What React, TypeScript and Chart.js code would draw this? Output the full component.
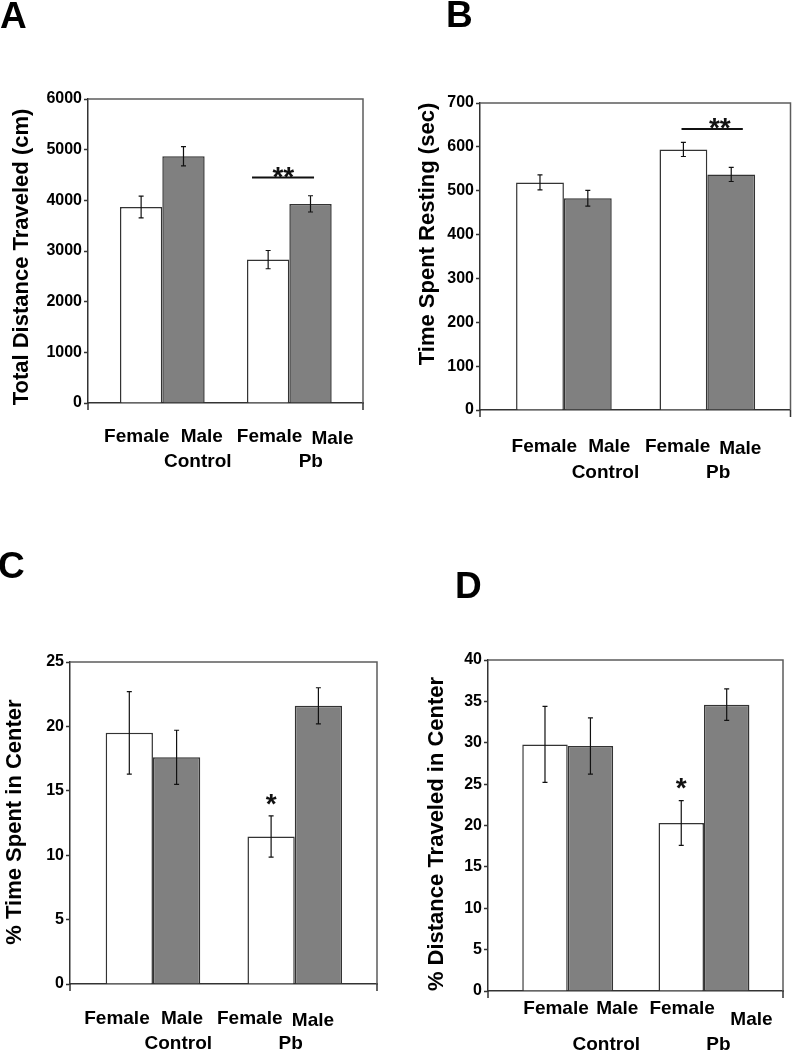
import React, { useEffect, useRef } from 'react';
import { Chart, registerables } from 'chart.js';

Chart.register(...registerables);

// ---------- data ----------
const groups = ['Control', 'Pb'];
const sexLabels = ['Female', 'Male'];

// A: Total Distance Traveled (cm)
const distanceFemale = [3870, 2830];
const distanceMale = [4870, 3930];
const distanceFemaleErr = [215, 180];
const distanceMaleErr = [190, 160];
const distanceTicks = [0, 1000, 2000, 3000, 4000, 5000, 6000];
const distanceSigLevel = 4450;
const distanceSigLabel = '**';

// B: Time Spent Resting (sec)
const restFemale = [519, 594];
const restMale = [483, 537];
const restFemaleErr = [17, 16];
const restMaleErr = [18, 16];
const restTicks = [0, 100, 200, 300, 400, 500, 600, 700];
const restSigLevel = 641;
const restSigLabel = '**';

// C: % Time Spent in Center
const timeCenterFemale = [19.5, 11.45];
const timeCenterMale = [17.6, 21.6];
const timeCenterFemaleErr = [3.2, 1.6];
const timeCenterMaleErr = [2.1, 1.4];
const timeCenterTicks = [0, 5, 10, 15, 20, 25];
const timeCenterSigLabel = '*';

// D: % Distance Traveled in Center
const distCenterFemale = [29.8, 20.3];
const distCenterMale = [29.6, 34.6];
const distCenterFemaleErr = [4.6, 2.7];
const distCenterMaleErr = [3.4, 1.9];
const distCenterTicks = [0, 5, 10, 15, 20, 25, 30, 35, 40];
const distCenterSigLabel = '*';

// ---------- layout / style ----------
const FONT = '"Liberation Sans", Arial, Helvetica, sans-serif';
const W = 396;
const H = 525;
const X_MIN = -0.585;
const X_MAX = 1.58;

type Area = { left: number; top: number; right: number; bottom: number };
type Sig =
  | { kind: 'bracket'; group: number; level: number; text: string; x0: number; x1: number; tdx: number; ttop: number }
  | { kind: 'star'; group: number; series: number; text: string; gap: number };
type PanelCfg = {
  id: string;
  left: number;
  top: number;
  letter: string;
  letterX: number;
  letterY: number;
  title: string;
  titleX: number;
  titleY: number;
  area: Area;
  female: number[];
  male: number[];
  femaleErr: number[];
  maleErr: number[];
  ticks: number[];
  lab: { f: number[]; m: number[]; g: number[]; fy: number[]; my: number[]; gy: number };
  sig: Sig;
};

const panels: PanelCfg[] = [
  {
    id: 'A', left: 0, top: 0,
    letter: 'A', letterX: 0, letterY: 28,
    title: 'Total Distance Traveled (cm)', titleX: 28, titleY: 257,
    area: { left: 88, top: 99, right: 363, bottom: 403 },
    female: distanceFemale, male: distanceMale, femaleErr: distanceFemaleErr, maleErr: distanceMaleErr,
    ticks: distanceTicks,
    lab: { f: [-25.5, -19.8], m: [39.5, 43.2], g: [35.5, 21.5], fy: [39, 39], my: [39, 41], gy: 64 },
    sig: { kind: 'bracket', group: 1, level: distanceSigLevel, text: distanceSigLabel, x0: -37.3, x1: 24.7, tdx: -6, ttop: 11.7 },
  },
  {
    id: 'B', left: 396, top: 0,
    letter: 'B', letterX: 50, letterY: 27,
    title: 'Time Spent Resting (sec)', titleX: 38, titleY: 234,
    area: { left: 84, top: 103, right: 394.5, bottom: 410 },
    female: restFemale, male: restMale, femaleErr: restFemaleErr, maleErr: restMaleErr,
    ticks: restTicks,
    lab: { f: [-19.6, -29.7], m: [45.4, 33], g: [41.5, 10.8], fy: [42, 42], my: [42, 44], gy: 68 },
    sig: { kind: 'bracket', group: 1, level: restSigLevel, text: restSigLabel, x0: -25.8, x1: 35.5, tdx: 12.5, ttop: 12 },
  },
  {
    id: 'C', left: 0, top: 525,
    letter: 'C', letterX: -2, letterY: 53,
    title: '% Time Spent in Center', titleX: 21, titleY: 297,
    area: { left: 70, top: 137, right: 377, bottom: 459 },
    female: timeCenterFemale, male: timeCenterMale, femaleErr: timeCenterFemaleErr, maleErr: timeCenterMaleErr,
    ticks: timeCenterTicks,
    lab: { f: [-36, -45], m: [29.1, 18.2], g: [25.3, -4], fy: [40, 40], my: [40, 42], gy: 65 },
    sig: { kind: 'star', group: 1, series: 0, text: timeCenterSigLabel, gap: 22.7 },
  },
  {
    id: 'D', left: 396, top: 525,
    letter: 'D', letterX: 59, letterY: 73,
    title: '% Distance Traveled in Center', titleX: 47, titleY: 309,
    area: { left: 92, top: 135, right: 387, bottom: 466 },
    female: distCenterFemale, male: distCenterMale, femaleErr: distCenterFemaleErr, maleErr: distCenterMaleErr,
    ticks: distCenterTicks,
    lab: { f: [-11.7, -21.8], m: [49.6, 47.5], g: [38.6, 14.4], fy: [23, 23], my: [23, 34], gy: 59 },
    sig: { kind: 'star', group: 1, series: 0, text: distCenterSigLabel, gap: 24 },
  },
];

const STAR_SIZE = 28;

function makeDecor(cfg: PanelCfg) {
  return {
    id: 'decor' + cfg.id,
    afterDatasetsDraw(chart: any) {
      const ctx: CanvasRenderingContext2D = chart.ctx;
      const xs = chart.scales.x;
      const ys = chart.scales.y;
      const { left, top, right, bottom } = chart.chartArea;
      ctx.save();
      // frame (top & right)
      ctx.strokeStyle = '#5c5c5c';
      ctx.lineWidth = 1.5;
      ctx.beginPath();
      ctx.moveTo(left, top);
      ctx.lineTo(right, top);
      ctx.lineTo(right, bottom);
      ctx.stroke();
      // axis extensions below baseline
      ctx.strokeStyle = '#333';
      ctx.beginPath();
      ctx.moveTo(left, bottom);
      ctx.lineTo(left, bottom + 7);
      ctx.moveTo(right, bottom);
      ctx.lineTo(right, bottom + 7);
      ctx.stroke();

      // error bars
      const series: [number[], number[]][] = [
        [cfg.female, cfg.femaleErr],
        [cfg.male, cfg.maleErr],
      ];
      ctx.strokeStyle = '#111';
      ctx.lineWidth = 1.2;
      series.forEach(([vals, errs], d) => {
        const meta = chart.getDatasetMeta(d);
        meta.data.forEach((bar: any, i: number) => {
          const x = bar.x;
          const y1 = ys.getPixelForValue(vals[i] + errs[i]);
          const y2 = ys.getPixelForValue(vals[i] - errs[i]);
          ctx.beginPath();
          ctx.moveTo(x, y1);
          ctx.lineTo(x, y2);
          ctx.moveTo(x - 2.5, y1);
          ctx.lineTo(x + 2.5, y1);
          ctx.moveTo(x - 2.5, y2);
          ctx.lineTo(x + 2.5, y2);
          ctx.stroke();
        });
      });

      // significance
      ctx.fillStyle = '#111';
      ctx.font = `bold ${STAR_SIZE}px ${FONT}`;
      ctx.textAlign = 'center';
      ctx.textBaseline = 'alphabetic';
      const s = cfg.sig;
      if (s.kind === 'bracket') {
        const gc = xs.getPixelForValue(s.group);
        const ly = ys.getPixelForValue(s.level);
        ctx.strokeStyle = '#111';
        ctx.lineWidth = 2;
        ctx.beginPath();
        ctx.moveTo(gc + s.x0, ly);
        ctx.lineTo(gc + s.x1, ly);
        ctx.stroke();
        ctx.fillText(s.text, gc + s.tdx, ly - s.ttop + STAR_SIZE * 0.716);
      } else {
        const bar = chart.getDatasetMeta(s.series).data[s.group];
        const vals = s.series === 0 ? cfg.female : cfg.male;
        const errs = s.series === 0 ? cfg.femaleErr : cfg.maleErr;
        const et = ys.getPixelForValue(vals[s.group] + errs[s.group]);
        ctx.fillText(s.text, bar.x, et - s.gap + STAR_SIZE * 0.716);
      }
      ctx.restore();
    },
    afterDraw(chart: any) {
      const ctx: CanvasRenderingContext2D = chart.ctx;
      const xs = chart.scales.x;
      const { bottom } = chart.chartArea;
      ctx.save();
      ctx.fillStyle = '#000';
      ctx.textBaseline = 'alphabetic';
      // x labels
      ctx.font = `bold 19px ${FONT}`;
      ctx.textAlign = 'center';
      groups.forEach((g, i) => {
        const gc = xs.getPixelForValue(i);
        ctx.fillText(sexLabels[0], gc + cfg.lab.f[i], bottom + cfg.lab.fy[i]);
        ctx.fillText(sexLabels[1], gc + cfg.lab.m[i], bottom + cfg.lab.my[i]);
        ctx.fillText(g, gc + cfg.lab.g[i], bottom + cfg.lab.gy);
      });
      // y title
      ctx.font = `bold 22px ${FONT}`;
      ctx.save();
      ctx.translate(cfg.titleX, cfg.titleY);
      ctx.rotate(-Math.PI / 2);
      ctx.textAlign = 'center';
      ctx.fillText(cfg.title, 0, 0);
      ctx.restore();
      // panel letter
      ctx.font = `bold 37px ${FONT}`;
      ctx.textAlign = 'left';
      ctx.fillText(cfg.letter, cfg.letterX, cfg.letterY);
      ctx.restore();
    },
  };
}

function Panel({ cfg }: { cfg: PanelCfg }) {
  const ref = useRef<HTMLCanvasElement>(null);
  useEffect(() => {
    const canvas = ref.current;
    if (!canvas) return;
    const a = cfg.area;
    const t = cfg.ticks;
    const chart = new Chart(canvas, {
      type: 'bar',
      data: {
        datasets: [
          {
            label: sexLabels[0],
            data: cfg.female.map((v, i) => ({ x: i, y: v })),
            backgroundColor: '#ffffff',
            borderColor: '#333333',
            borderWidth: 1.5,
            borderSkipped: 'start',
            categoryPercentage: 0.667,
            barPercentage: 1,
          },
          {
            label: sexLabels[1],
            data: cfg.male.map((v, i) => ({ x: i, y: v })),
            backgroundColor: '#808080',
            borderColor: '#333333',
            borderWidth: 1.5,
            borderSkipped: 'start',
            categoryPercentage: 0.667,
            barPercentage: 1,
          },
        ],
      } as any,
      options: {
        animation: false,
        responsive: false,
        devicePixelRatio: 1,
        layout: { padding: { left: 0, top: a.top, right: W - a.right, bottom: 0 } },
        plugins: {
          legend: { display: false },
          tooltip: { enabled: false },
          title: { display: false },
        },
        scales: {
          x: {
            type: 'linear',
            min: X_MIN,
            max: X_MAX,
            offset: false,
            ticks: { display: false, stepSize: 1, includeBounds: false },
            grid: { display: false, drawTicks: false },
            border: { display: true, color: '#333333', width: 1.5 },
            afterFit: (s: any) => {
              s.height = H - a.bottom;
            },
          },
          y: {
            type: 'linear',
            min: t[0],
            max: t[t.length - 1],
            ticks: {
              stepSize: t[1] - t[0],
              autoSkip: false,
              color: '#000',
              padding: 2,
              font: { family: FONT, size: 16, weight: 'bold' },
              callback: (v: any) => String(v),
            },
            grid: {
              display: true,
              drawOnChartArea: false,
              drawTicks: true,
              tickLength: 4,
              tickColor: '#333333',
              tickWidth: 1.5,
            },
            border: { display: true, color: '#333333', width: 1.5 },
            afterFit: (s: any) => {
              s.width = a.left;
            },
          },
        },
      } as any,
      plugins: [makeDecor(cfg)],
    });
    return () => chart.destroy();
  }, [cfg]);
  return (
    <canvas
      ref={ref}
      width={W}
      height={H}
      style={{ position: 'absolute', left: cfg.left, top: cfg.top, width: W, height: H, display: 'block' }}
    />
  );
}

export default function App() {
  return (
    <div
      style={{
        position: 'absolute',
        left: 0,
        top: 0,
        width: 792,
        height: 1050,
        background: '#ffffff',
        overflow: 'hidden',
      }}
    >
      {panels.map((p) => (
        <Panel key={p.id} cfg={p} />
      ))}
    </div>
  );
}
